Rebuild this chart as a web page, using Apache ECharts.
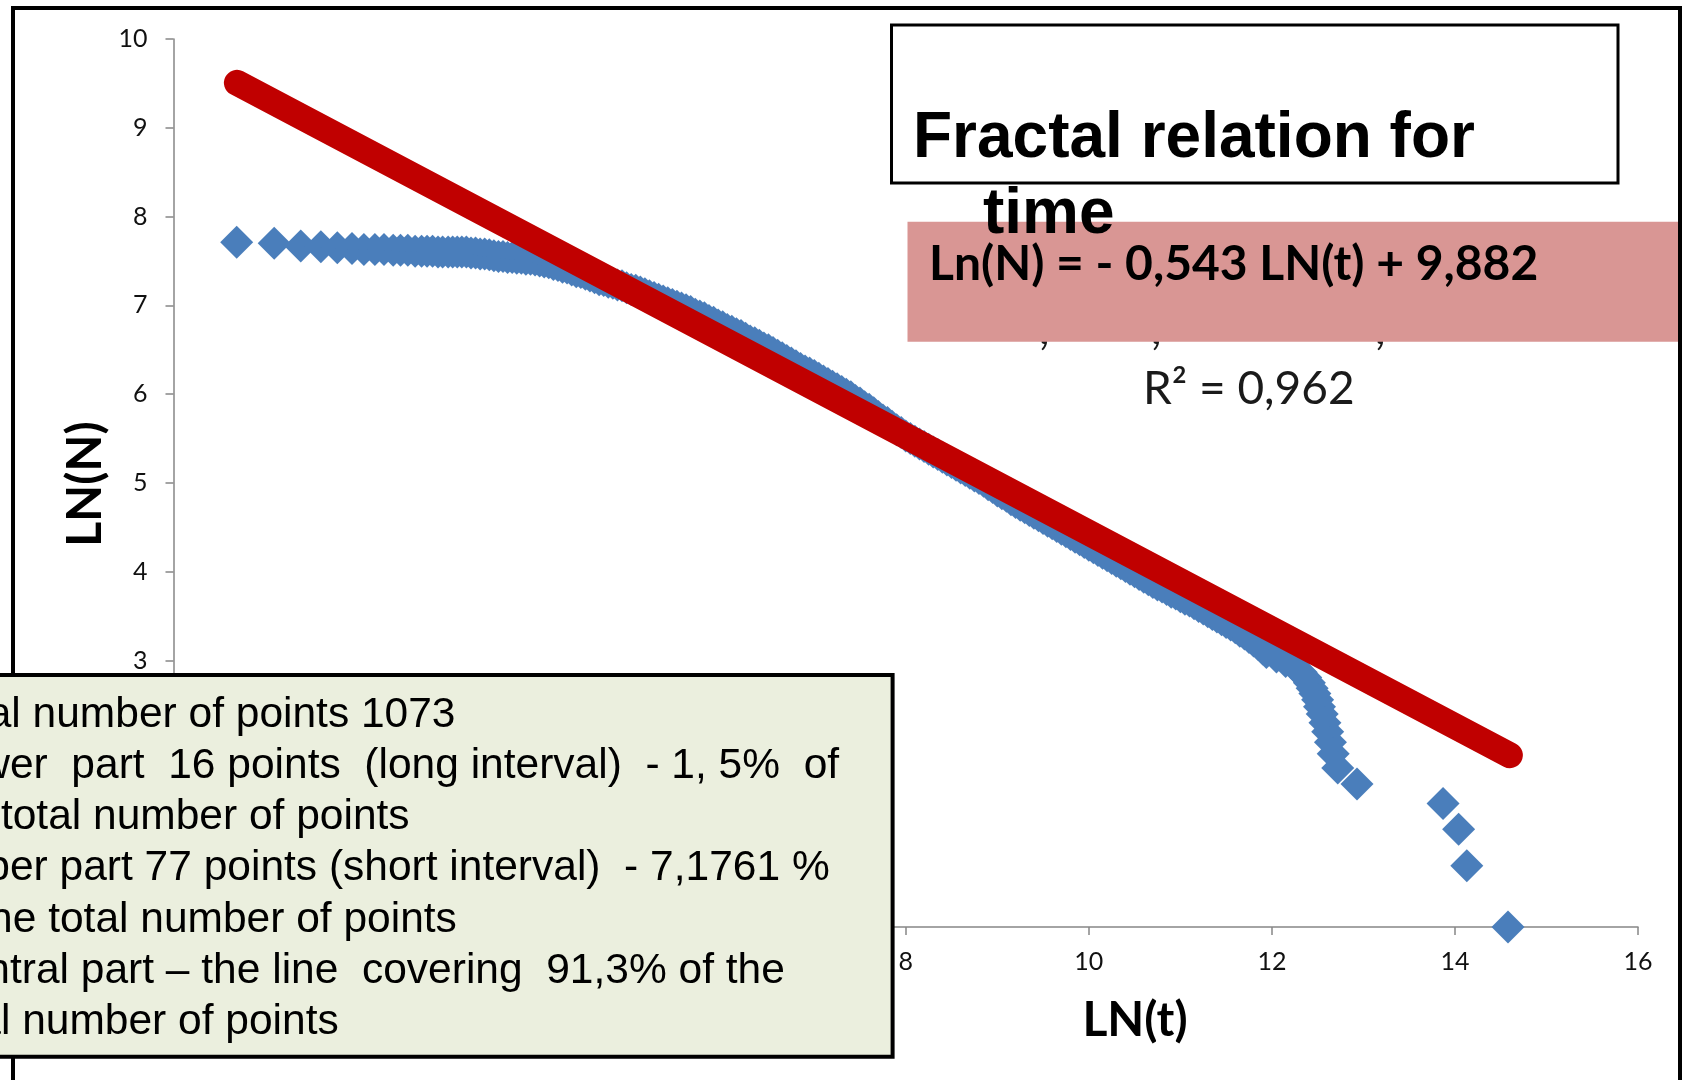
<!DOCTYPE html>
<html>
<head>
<meta charset="utf-8">
<script src="https://cdn.jsdelivr.net/npm/echarts@6/dist/echarts.min.js"></script>
<style>
html,body{margin:0;padding:0;background:#fff;overflow:hidden;}
#chart{width:1685px;height:1080px;}
</style>
</head>
<body>
<div id="chart"></div>
<script>
// LN(t) values of the observed points
const lnT = [0.69,1.10,1.39,1.61,1.79,1.95,2.08,2.20,2.30,2.40,2.48,2.56,2.64,2.71,2.77,2.83,2.89,2.94,
3.00,3.05,3.10,3.15,3.20,3.25,3.30,3.35,3.40,3.45,3.50,3.55,3.60,3.65,3.70,3.75,3.80,3.85,3.90,3.95,
4.00,4.05,4.10,4.15,4.20,4.25,4.30,4.35,4.40,4.45,4.50,4.55,4.60,4.65,4.70,4.75,4.80,4.85,4.90,4.95,
5.00,5.05,5.10,5.15,5.20,5.25,5.30,5.35,5.40,5.45,5.50,5.55,5.60,5.65,5.70,5.75,5.80,5.85,5.90,5.95,
6.00,6.05,6.10,6.15,6.20,6.25,6.30,6.35,6.40,6.45,6.50,6.55,6.60,6.65,6.70,6.75,6.80,6.85,6.90,6.95,
7.00,7.05,7.10,7.15,7.20,7.25,7.30,7.35,7.40,7.45,7.50,7.55,7.60,7.65,7.70,7.75,7.80,7.85,7.90,7.95,
8.00,8.05,8.10,8.15,8.20,8.25,8.30,8.35,8.40,8.45,8.50,8.55,8.60,8.65,8.70,8.75,8.80,8.85,8.90,8.95,
9.00,9.05,9.10,9.15,9.20,9.25,9.30,9.35,9.40,9.45,9.50,9.55,9.60,9.65,9.70,9.75,9.80,9.85,9.90,9.95,
10.00,10.05,10.10,10.15,10.20,10.25,10.30,10.35,10.40,10.45,10.50,10.55,10.60,10.65,10.70,10.75,10.80,10.85,10.90,10.95,
11.00,11.05,11.10,11.15,11.20,11.25,11.30,11.35,11.40,11.45,11.50,11.55,11.60,11.65,11.70,11.75,11.80,11.85,11.90,11.94,
12.05,12.15,12.25,12.32,12.37,12.41,12.44,12.47,12.50,12.52,12.55,12.58,12.61,12.64,12.67,12.72,12.93,
13.87,14.04,14.13,14.58];
// LN(N) values of the observed points
const lnN = [7.71,7.70,7.67,7.66,7.65,7.64,7.63,7.63,7.63,7.62,7.62,7.62,7.61,7.61,7.61,7.61,7.60,7.60,
7.60,7.60,7.60,7.60,7.60,7.59,7.59,7.58,7.58,7.57,7.56,7.55,7.55,7.54,7.54,7.53,7.53,7.52,7.52,7.51,
7.50,7.49,7.48,7.46,7.45,7.43,7.42,7.40,7.38,7.37,7.35,7.33,7.31,7.29,7.28,7.26,7.25,7.23,7.22,7.20,
7.18,7.17,7.15,7.13,7.11,7.09,7.07,7.05,7.03,7.01,6.99,6.97,6.95,6.93,6.90,6.88,6.86,6.83,6.81,6.78,
6.76,6.73,6.71,6.68,6.66,6.63,6.60,6.58,6.55,6.52,6.50,6.47,6.44,6.41,6.38,6.35,6.32,6.29,6.26,6.24,
6.21,6.18,6.15,6.12,6.09,6.06,6.03,6.00,5.97,5.93,5.90,5.86,5.83,5.79,5.75,5.71,5.68,5.64,5.60,5.57,
5.53,5.50,5.47,5.44,5.41,5.38,5.35,5.32,5.29,5.26,5.23,5.20,5.17,5.14,5.11,5.08,5.05,5.02,4.98,4.95,
4.91,4.88,4.85,4.81,4.78,4.75,4.72,4.69,4.66,4.63,4.60,4.57,4.54,4.51,4.48,4.45,4.42,4.39,4.36,4.33,
4.30,4.27,4.24,4.21,4.18,4.15,4.12,4.09,4.06,4.03,4.00,3.97,3.94,3.91,3.88,3.85,3.83,3.80,3.77,3.75,
3.72,3.69,3.67,3.64,3.61,3.58,3.55,3.52,3.49,3.46,3.43,3.40,3.37,3.33,3.30,3.26,3.22,3.18,3.13,3.09,
3.04,2.99,2.93,2.87,2.81,2.75,2.69,2.63,2.56,2.48,2.40,2.30,2.20,2.08,1.95,1.79,1.61,
1.39,1.10,0.69,0.00];
// Fitted line end points
const trendX = [0.693, 14.6];
const trendY = [9.506, 1.935];
// Texts
const titleLines = ["Fractal relation for", "time"];
const equationText = "Ln(N) = - 0,543 LN(t) + 9,882";
const r2Text = "R\u00B2 = 0,962";
const noteLines = [
  "Total number of points 1073",
  "Lower  part  16 points  (long interval)  - 1, 5%  of",
  "the total number of points",
  "Upper part 77 points (short interval)  - 7,1761 %",
  "of the total number of points",
  "Central part \u2013 the line  covering  91,3% of the",
  "total number of points"
];
const noteOffsets = [-69, -68, -70, -68, -70, -68, -70];
const xAxisName = "LN(t)";
const yAxisName = "LN(N)";

const scatterData = lnT.map((x, i) => [x, lnN[i]]);
const trendData = trendX.map((x, i) => [x, trendY[i]]);

const axisGray = '#868686';
const chart = echarts.init(document.getElementById('chart'), null, {renderer: 'canvas'});

const graphics = [
  {type: 'text', z: 90, x: 1039, y: 352, style: {text: ',', font: '46px Lato', fill: '#1a1a1a', verticalAlign: 'bottom'}},
  {type: 'text', z: 90, x: 1151, y: 352, style: {text: ',', font: '46px Lato', fill: '#1a1a1a', verticalAlign: 'bottom'}},
  {type: 'text', z: 90, x: 1375, y: 352, style: {text: ',', font: '46px Lato', fill: '#1a1a1a', verticalAlign: 'bottom'}},
  {type: 'rect', z: 95, shape: {x: 907.5, y: 221.7, width: 770.5, height: 120},
   style: {fill: '#D99694'}},
  {type: 'rect', z: 96, shape: {x: 13, y: 8, width: 1667, height: 1120},
   style: {fill: 'none', stroke: '#000', lineWidth: 4}},
  {type: 'rect', z: 97, shape: {x: 891.5, y: 25, width: 726.5, height: 158},
   style: {fill: '#fff', stroke: '#000', lineWidth: 3}},
  {type: 'text', z: 100, x: 913, y: 139, style: {text: titleLines[0], font: 'bold 64px "Liberation Sans", Arial', fill: '#000', verticalAlign: 'middle'}},
  {type: 'text', z: 100, x: 983, y: 215, style: {text: titleLines[1], font: 'bold 64px "Liberation Sans", Arial', fill: '#000', verticalAlign: 'middle'}},
  {type: 'text', z: 100, x: 929, y: 265, style: {text: equationText, font: 'bold 48px Lato', fill: '#000', verticalAlign: 'middle'}},
  {type: 'text', z: 100, x: 1143, y: 389, style: {text: r2Text, font: '46px Lato', fill: '#1a1a1a', verticalAlign: 'middle'}},
  {type: 'text', z: 100, x: 1135, y: 1021, style: {text: xAxisName, font: 'bold 48px Lato', fill: '#000', align: 'center', verticalAlign: 'middle'}},
  {type: 'text', z: 100, x: 86, y: 484, rotation: Math.PI / 2, style: {text: yAxisName, font: 'bold 48px Lato', fill: '#000', align: 'center', verticalAlign: 'middle'}},
  {type: 'rect', z: 110, shape: {x: -20, y: 675, width: 912.6, height: 381.7},
   style: {fill: '#EBEFDE', stroke: '#000', lineWidth: 4}}
];
noteLines.forEach((t, i) => {
  graphics.push({type: 'text', z: 120, x: noteOffsets[i], y: 715 + 51.2 * i,
    style: {text: t, font: '42.5px "Liberation Sans", Arial', fill: '#000', verticalAlign: 'middle'}});
});

chart.setOption({
  animation: false,
  backgroundColor: '#fff',
  grid: {left: 173.5, top: 39, width: 1464.5, height: 888, containLabel: false},
  xAxis: {
    type: 'value', min: 0, max: 16, interval: 2,
    axisLine: {show: true, onZero: false, lineStyle: {color: axisGray, width: 1.5}},
    axisTick: {show: true, length: 8, lineStyle: {color: axisGray, width: 1.5}},
    axisLabel: {margin: 22, fontFamily: 'Lato', fontSize: 25, color: '#111'},
    splitLine: {show: false}
  },
  yAxis: {
    type: 'value', min: 0, max: 10, interval: 1,
    axisLine: {show: true, lineStyle: {color: axisGray, width: 1.5}},
    axisTick: {show: true, length: 8, lineStyle: {color: axisGray, width: 1.5}},
    axisLabel: {margin: 26, fontFamily: 'Lato', fontSize: 25, color: '#111'},
    splitLine: {show: false}
  },
  series: [
    {type: 'scatter', symbol: 'diamond', symbolSize: 33, data: scatterData,
     itemStyle: {color: '#4A7EBB', opacity: 1}, z: 2},
    {type: 'line', data: trendData, showSymbol: false, symbol: 'none',
     lineStyle: {color: '#C00000', width: 26, cap: 'round'}, z: 3}
  ],
  graphic: graphics
});
</script>
</body>
</html>
